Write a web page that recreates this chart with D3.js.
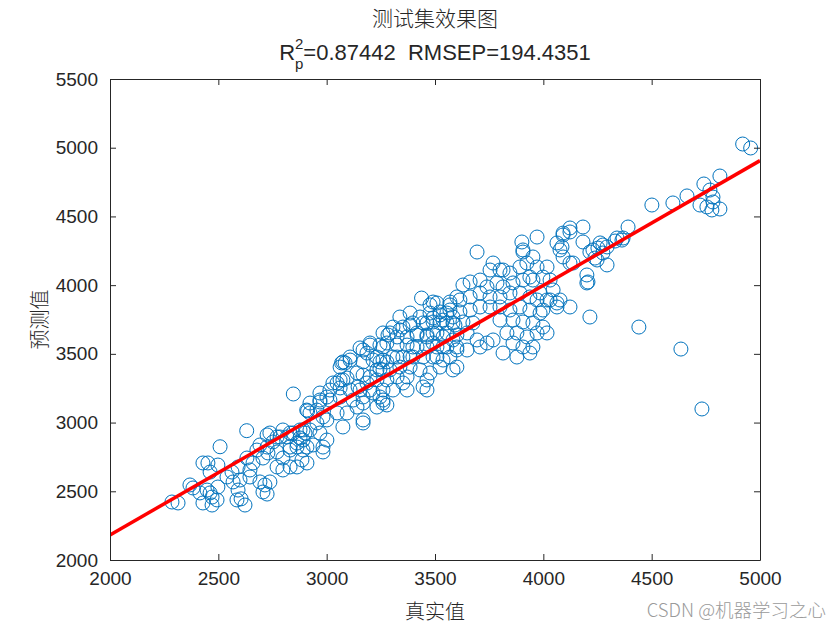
<!DOCTYPE html>
<html>
<head>
<meta charset="utf-8">
<script src="https://cdn.jsdelivr.net/npm/d3@7"></script>
<style>
  html, body { margin: 0; padding: 0; background: #fff; }
  svg { display: block; }
</style>
</head>
<body>
<svg id="chart" width="840" height="630"></svg>
<script>
// ---------------- data ----------------
const actualValues = [
  2631,2508,2908,2429,2452,2498,2462,2369,2383,2286,2314,2415,2448,2471,2429,2471,2494,2540,2563,2591,
  2568,2600,2591,2586,2623,2605,2632,2646,2678,2692,2725,2738,2706,2729,2771,2798,2771,2798,2692,2715,
  2706,2738,2660,2646,2831,2863,2891,2909,2877,2891,2798,2831,2771,2831,2863,2886,2846,3069,3085,3108,
  3168,3200,3260,3283,3168,3214,3246,3278,3232,3260,3278,3140,3168,3200,3094,3062,3029,3015,3062,3108,
  3145,3168,3214,3260,3278,3232,3168,3168,3075,3048,3094,3140,3001,2969,2955,2923,2912,2983,3001,2955,
  2923,2900,2969,3001,2983,2937,2891,2877,2845,2817,2785,2752,2725,2863,2831,2909,3438,3477,3509,3569,
  3601,3523,3555,3583,3491,3463,3523,3555,3592,3385,3338,3292,3260,3325,3371,3417,3463,3491,3537,3583,
  3601,3555,3509,3463,3417,3371,3325,3278,3246,3200,3154,3186,3108,3075,3062,3232,3260,3306,3352,3398,
  3445,3491,3537,3583,3523,3477,3431,3385,3338,3292,3246,3186,3232,3325,3371,3352,3463,3445,3463,3371,
  3306,3260,3246,3200,3154,3075,3048,2969,2969,2923,3015,3062,3122,3168,3260,3694,3906,3952,3754,3800,
  3846,3892,3924,3971,4017,3629,3662,3708,3740,3786,3814,3860,3906,3952,3998,3491,3569,3615,3662,3708,
  3754,3800,3846,3892,3938,3985,4017,3338,3385,3431,3477,3523,3569,3615,3662,3708,3754,3800,3846,3892,
  3938,3985,3306,3352,3398,3445,3491,3537,3583,3629,3675,3800,3860,3906,3952,3998,3417,3463,3509,3555,
  3601,3648,3694,3740,3708,3768,3832,3878,3925,3971,4017,3398,3491,3537,3601,3648,3860,3906,3952,3325,
  3385,3509,3569,3814,3878,3938,3601,3901,3906,3971,4063,4091,4123,4077,4091,4183,4183,4229,4262,4294,
  4275,4340,4368,4391,4294,4248,4201,4201,4123,4123,4215,3938,4031,4045,4031,4077,4063,3998,3971,3768,
  3814,4920,4957,4815,4741,4769,4783,4783,4723,4755,4778,4815,4663,4598,4501,4363,4331,4275,4252,4238,
  4215,4123,4091,4086,4137,4206,4441,4635,4732,4063,2725,2983,2498,2462
];
const predictedValues = [
  2941,2824,3091,2706,2706,2691,2640,2546,2524,2422,2415,2488,2509,2458,2415,2400,2437,2604,2640,2677,
  2568,2582,2509,2437,2400,2445,2742,2655,2800,2837,2910,2924,2742,2779,2786,2742,2677,2655,2568,2546,
  2495,2568,2706,2604,2800,2822,2800,2706,2888,2946,2946,2924,2895,2677,2677,2728,3208,3434,3434,3455,
  3528,3564,3550,3637,3441,3455,3441,3441,3383,3383,3310,3361,3346,3332,3324,3310,3288,3237,3252,3237,
  3259,3186,3215,3164,3128,3113,3019,2997,2968,3070,3070,3113,3186,3150,3091,3070,3085,3041,3019,2997,
  2946,2924,2924,2873,2822,2837,2873,2946,2924,2895,2895,2859,2822,2851,2822,2822,3906,3856,3870,3856,
  3914,3783,3797,3768,3761,3725,3725,3725,3710,3710,3674,3652,3652,3623,3623,3652,3623,3652,3623,3601,
  3528,3550,3550,3550,3550,3564,3564,3579,3564,3579,3543,3506,3477,3441,3404,3477,3455,3477,3477,3477,
  3477,3477,3455,3383,3404,3361,3383,3404,3404,3383,3390,3288,3310,3332,3332,3288,3310,3259,3237,3237,
  3237,3237,3186,3237,3237,3310,3288,3215,3164,3142,3164,3186,3164,3142,3142,4241,4241,4205,4110,4110,
  4088,4132,4161,4132,4132,4001,4023,4037,3987,4016,3987,4016,4037,4037,4059,3877,3877,3892,3914,3943,
  3914,3914,3943,3943,3914,3943,3892,3768,3797,3768,3797,3805,3819,3805,3819,3841,3841,3841,3819,3841,
  3819,3797,3695,3695,3725,3725,3732,3746,3725,3732,3725,3746,3746,3732,3725,3695,3637,3637,3652,3652,
  3637,3652,3601,3579,3550,3601,3652,3652,3623,3652,3652,3550,3579,3550,3550,3528,3579,3550,3550,3477,
  3480,3477,3477,3506,3477,3506,3404,4314,4256,4350,4307,4379,4387,4256,4205,4423,4314,4256,4307,4278,
  4234,4343,4343,4423,4147,4183,4074,4016,4161,3841,3768,4059,4037,3965,3892,3892,3841,3819,3892,4161,
  4110,5027,4998,4794,4736,4692,4641,4605,4583,4569,4547,4554,4649,4598,4583,4328,4321,4292,4270,4197,
  4241,4416,4365,4278,4161,4023,3695,3535,3099,3870,2480,2786,2531,2488
];
const xTicks = [2000, 2500, 3000, 3500, 4000, 4500, 5000];
const yTicks = [2000, 2500, 3000, 3500, 4000, 4500, 5000, 5500];
const fitSlope = 0.908;
const fitIntercept = 366;
const titleLine1 = "测试集效果图";
const r2Text = "0.87442";
const rmsepText = "194.4351";
const xLabel = "真实值";
const yLabel = "预测值";
const watermark = "CSDN @机器学习之心";

// ---------------- layout ----------------
const plotLeft = 110, plotRight = 760, plotTop = 79, plotBottom = 560;
const axisColor = "#262626";
const svg = d3.select("#chart");

const x = d3.scaleLinear().domain([2000, 5000]).range([plotLeft, plotRight]);
const y = d3.scaleLinear().domain([2000, 5500]).range([plotBottom, plotTop]);

svg.append("rect").attr("x", 0).attr("y", 0).attr("width", 840).attr("height", 630).attr("fill", "#fff");

const clip = svg.append("clipPath").attr("id", "plotclip");
clip.append("rect").attr("x", plotLeft).attr("y", plotTop).attr("width", plotRight - plotLeft).attr("height", plotBottom - plotTop);

const plot = svg.append("g").attr("clip-path", "url(#plotclip)");

const points = actualValues.map((a, i) => ({a: a, p: predictedValues[i]}));
plot.selectAll("circle.pt").data(points).enter().append("circle")
  .attr("class", "pt")
  .attr("cx", d => x(d.a))
  .attr("cy", d => y(d.p))
  .attr("r", 7)
  .attr("fill", "none")
  .attr("stroke", "#0072BD")
  .attr("stroke-width", 1);

const fitDomain = x.domain();
plot.append("line")
  .attr("x1", x(fitDomain[0])).attr("y1", y(fitSlope * fitDomain[0] + fitIntercept))
  .attr("x2", x(fitDomain[1])).attr("y2", y(fitSlope * fitDomain[1] + fitIntercept))
  .attr("stroke", "#FF0000").attr("stroke-width", 3.5);

// ---------------- axes ----------------
const fmt = d3.format("d");
function styleAxis(g) {
  g.select(".domain").attr("stroke", axisColor).attr("stroke-width", 1);
  g.selectAll(".tick line").attr("stroke", axisColor).attr("stroke-width", 1);
  g.selectAll(".tick text").attr("fill", axisColor)
    .style("font-family", "'Liberation Sans', Arial, sans-serif").style("font-size", "19px");
}
const gx = svg.append("g").attr("transform", `translate(0,${plotBottom})`)
  .call(d3.axisBottom(x).tickValues(xTicks).tickFormat(fmt).tickSizeInner(-6).tickSizeOuter(0).tickPadding(12));
styleAxis(gx);
const gxt = svg.append("g").attr("transform", `translate(0,${plotTop})`)
  .call(d3.axisTop(x).tickValues(xTicks).tickSizeInner(-6).tickSizeOuter(0).tickFormat(""));
styleAxis(gxt);
const gy = svg.append("g").attr("transform", `translate(${plotLeft},0)`)
  .call(d3.axisLeft(y).tickValues(yTicks).tickFormat(fmt).tickSizeInner(-6).tickSizeOuter(0).tickPadding(12));
styleAxis(gy);
const gyr = svg.append("g").attr("transform", `translate(${plotRight},0)`)
  .call(d3.axisRight(y).tickValues(yTicks).tickSizeInner(-6).tickSizeOuter(0).tickFormat(""));
styleAxis(gyr);

// ---------------- titles & labels ----------------
const cx = (plotLeft + plotRight) / 2;
svg.append("text").attr("x", cx).attr("y", 26).attr("text-anchor", "middle")
  .attr("fill", axisColor).style("font-family", "'Noto Sans CJK SC', sans-serif").style("font-size", "21px")
  .style("font-weight", 300)
  .text(titleLine1);

const t2 = svg.append("text").attr("y", 60).attr("fill", axisColor)
  .attr("xml:space", "preserve")
  .style("font-family", "'Liberation Sans', Arial, sans-serif").style("font-size", "22px");
t2.append("tspan").text("R");
t2.append("tspan").attr("dy", -11).style("font-size", "15px").text("2");
t2.append("tspan").attr("dx", -8.4).attr("dy", 20).style("font-size", "15px").text("p");
t2.append("tspan").attr("dy", -9).text("=" + r2Text + "\u00a0\u00a0RMSEP=" + rmsepText);
const w2 = t2.node().getComputedTextLength() - 8.4;
t2.attr("x", cx - w2 / 2);

svg.append("text").attr("x", cx).attr("y", 619).attr("text-anchor", "middle")
  .attr("fill", axisColor).style("font-family", "'Noto Sans CJK SC', sans-serif").style("font-size", "20px")
  .style("font-weight", 300)
  .text(xLabel);

svg.append("text").attr("transform", `translate(47,${(plotTop + plotBottom) / 2}) rotate(-90)`)
  .attr("text-anchor", "middle")
  .attr("fill", axisColor).style("font-family", "'Noto Sans CJK SC', sans-serif").style("font-size", "20px")
  .style("font-weight", 300)
  .text(yLabel);

svg.append("text").attr("x", 826).attr("y", 617).attr("text-anchor", "end")
  .attr("fill", "#9a9a9a").style("font-family", "'Noto Sans CJK SC', sans-serif").style("font-size", "18.5px")
  .style("font-weight", 300)
  .text(watermark);
</script>
</body>
</html>
